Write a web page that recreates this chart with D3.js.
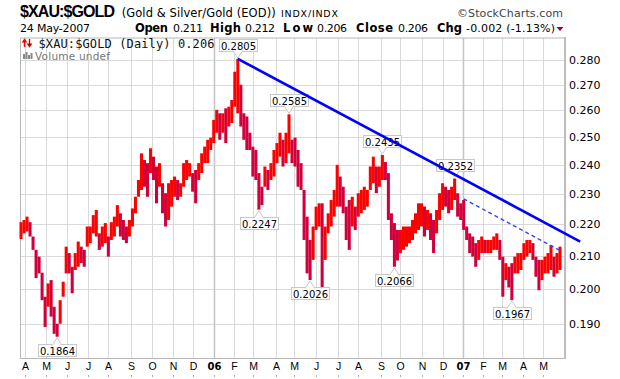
<!DOCTYPE html>
<html><head><meta charset="utf-8">
<script src="https://cdn.jsdelivr.net/npm/d3@7/dist/d3.min.js"></script>
<style>
html,body{margin:0;padding:0;background:#fff;}
svg{display:block;}
</style></head><body>
<svg id="c" width="620" height="379"></svg>
<script>
// ---------- data ----------
const firstDay = "2005-03-28", lastDay = "2007-05-24";
const holidays = ["2005-05-30","2005-07-04","2005-09-05","2005-11-24","2005-12-26",
  "2006-01-02","2006-01-16","2006-02-20","2006-04-14","2006-05-29","2006-07-04","2006-09-04","2006-11-23","2006-12-25",
  "2007-01-01","2007-01-02","2007-01-15","2007-02-19","2007-04-06"];
const yTicks = [0.19,0.20,0.21,0.22,0.23,0.24,0.25,0.26,0.27,0.28];
const monthLetters = ["J","F","M","A","M","J","J","A","S","O","N","D"];
// High / low of each price column (about every third session)
const highs = [0.2206,0.2213,0.2224,0.2206,0.2160,0.2118,0.2097,0.2048,0.1977,0.2016,
0.2026,0.1948,0.1900,0.1967,0.2021,0.2128,0.2108,0.2066,0.2108,0.2144,
0.2128,0.2118,0.2192,0.2192,0.2229,0.2246,0.2170,0.2192,0.2203,0.2160,
0.2206,0.2224,0.2262,0.2235,0.2213,0.2192,0.2213,0.2251,0.2290,0.2347,
0.2441,0.2417,0.2406,0.2459,0.2429,0.2394,0.2406,0.2336,0.2302,0.2336,
0.2347,0.2359,0.2347,0.2336,0.2406,0.2417,0.2406,0.2371,0.2382,0.2406,
0.2441,0.2465,0.2490,0.2498,0.2564,0.2602,0.2589,0.2589,0.2608,0.2614,
0.2640,0.2752,0.2805,0.2700,0.2589,0.2577,0.2516,0.2465,0.2453,0.2371,
0.2324,0.2394,0.2382,0.2406,0.2453,0.2478,0.2516,0.2490,0.2516,0.2585,
0.2490,0.2498,0.2453,0.2406,0.2313,0.2224,0.2149,0.2192,0.2257,0.2268,
0.2268,0.2192,0.2235,0.2279,0.2313,0.2400,0.2359,0.2324,0.2257,0.2279,
0.2290,0.2257,0.2302,0.2313,0.2324,0.2313,0.2394,0.2429,0.2394,0.2394,
0.2435,0.2410,0.2371,0.2235,0.2203,0.2181,0.2181,0.2192,0.2192,0.2192,
0.2213,0.2235,0.2268,0.2268,0.2257,0.2246,0.2235,0.2213,0.2246,0.2302,
0.2336,0.2324,0.2313,0.2324,0.2352,0.2302,0.2268,0.2279,0.2192,0.2170,
0.2160,0.2139,0.2149,0.2160,0.2149,0.2149,0.2149,0.2160,0.2170,0.2149,
0.2097,0.2077,0.2066,0.2077,0.2097,0.2108,0.2108,0.2139,0.2149,0.2149,
0.2139,0.2097,0.2087,0.2087,0.2097,0.2108,0.2133,0.2097,0.2108,0.2128];
const lows = [0.2152,0.2170,0.2176,0.2160,0.2118,0.2032,0.2046,0.1967,0.1891,0.1948,
0.1920,0.1872,0.1864,0.1900,0.1977,0.2046,0.2046,0.1987,0.2056,0.2066,
0.2077,0.2066,0.2128,0.2139,0.2170,0.2160,0.2118,0.2128,0.2139,0.2097,
0.2149,0.2160,0.2192,0.2160,0.2149,0.2139,0.2160,0.2192,0.2235,0.2290,
0.2313,0.2324,0.2290,0.2371,0.2347,0.2268,0.2324,0.2235,0.2192,0.2213,
0.2257,0.2290,0.2279,0.2290,0.2324,0.2347,0.2359,0.2307,0.2268,0.2347,
0.2371,0.2406,0.2406,0.2453,0.2478,0.2516,0.2490,0.2516,0.2478,0.2539,
0.2552,0.2614,0.2589,0.2539,0.2490,0.2453,0.2453,0.2359,0.2347,0.2247,
0.2262,0.2324,0.2313,0.2347,0.2359,0.2406,0.2429,0.2394,0.2406,0.2441,
0.2406,0.2394,0.2324,0.2313,0.2149,0.2046,0.2026,0.2087,0.2181,0.2192,
0.2004,0.2087,0.2170,0.2192,0.2224,0.2257,0.2257,0.2235,0.2149,0.2118,
0.2192,0.2181,0.2224,0.2235,0.2246,0.2257,0.2313,0.2336,0.2302,0.2324,
0.2347,0.2347,0.2213,0.2149,0.2066,0.2085,0.2108,0.2118,0.2128,0.2139,
0.2149,0.2170,0.2181,0.2192,0.2160,0.2181,0.2149,0.2108,0.2170,0.2213,
0.2246,0.2257,0.2235,0.2246,0.2279,0.2224,0.2213,0.2181,0.2149,0.2108,
0.2097,0.2066,0.2087,0.2108,0.2108,0.2108,0.2108,0.2118,0.2118,0.2087,
0.1977,0.2026,0.2004,0.1967,0.2046,0.2046,0.2056,0.2087,0.2097,0.2108,
0.2087,0.2036,0.1996,0.2026,0.2046,0.2046,0.2056,0.2036,0.2046,0.2056];
const annotations = [
  {col:72, value:0.2805, side:"above"},
  {col:89, value:0.2585, side:"above"},
  {col:120, value:0.2435, side:"above"},
  {col:144, value:0.2352, side:"above"},
  {col:12, value:0.1864, side:"below"},
  {col:79, value:0.2247, side:"below"},
  {col:96, value:0.2026, side:"below"},
  {col:124, value:0.2066, side:"below"},
  {col:163, value:0.1967, side:"below"}];
const trendSolid = [{col:72, value:0.2805},{col:185.7, value:0.2144}];
const trendDashed = [{col:147, value:0.2283},{col:179, value:0.2116}];

// ---------- layout ----------
const L = 20.5, R = 565, T = 38, B = 358.5;
const svg = d3.select("#c");
const SANS = "'DejaVu Sans', Verdana, sans-serif";
const ARIAL = "'Liberation Sans', Arial, sans-serif";

const parse = d3.timeParse("%Y-%m-%d"), fmt = d3.timeFormat("%Y-%m-%d");
const hol = new Set(holidays);
const days = d3.timeDay.range(parse(firstDay), d3.timeDay.offset(parse(lastDay), 1))
  .filter(d => d.getDay() % 6 !== 0 && !hol.has(fmt(d)));
const xs = d3.scaleLinear().domain([0, days.length - 1]).range([21, 560]);
const colX = k => xs(k * (days.length - 1) / (highs.length - 1));
const ys = d3.scaleLog().domain([0.1804, 0.2892]).range([359, 38]);

// month ticks
const months = d3.timeMonth.range(d3.timeMonth.ceil(days[0]), days[days.length - 1]);
const monthTicks = months.map(m => {
  const i = days.findIndex(d => d >= m);
  return {x: Math.round(xs(i)) + 0.5, m: m.getMonth(),
          label: m.getMonth() === 0 ? String(m.getFullYear()).slice(2) : monthLetters[m.getMonth()]};
});

// grid
const grid = svg.append("g");
grid.selectAll("line.h").data(yTicks).join("line")
  .attr("x1", L).attr("x2", R).attr("y1", d => Math.round(ys(d)) + 0.5).attr("y2", d => Math.round(ys(d)) + 0.5)
  .attr("stroke", "#d9d9d9");
grid.selectAll("line.v").data(monthTicks).join("line")
  .attr("x1", d => d.x).attr("x2", d => d.x).attr("y1", T).attr("y2", B)
  .attr("stroke", d => d.m === 0 ? "#c4c4c4" : "#d9d9d9").attr("stroke-width", d => d.m === 0 ? 1.5 : 1);

// frame
svg.append("path").attr("d", `M${L},${T}H${R}M${L},${T}V${B}H${R}`).attr("fill", "none").attr("stroke", "#b8b8b8");
svg.append("line").attr("x1", R).attr("x2", R).attr("y1", T - 1).attr("y2", B + 0.5).attr("stroke", "#bdbdbd").attr("stroke-width", 2);

// y axis labels (right)
svg.selectAll("text.yt").data(yTicks).join("text")
  .attr("x", 569).attr("y", d => ys(d) + 4).text(d3.format(".3f"))
  .attr("font-family", SANS).attr("font-size", 11).attr("fill", "#000");

// x axis labels
svg.selectAll("text.xt").data(monthTicks).join("text")
  .attr("x", d => d.x).attr("y", 369.5).attr("text-anchor", "middle")
  .attr("font-family", d => d.m === 0 ? SANS : "'Liberation Sans Narrow', 'Arial Narrow', " + ARIAL)
  .attr("font-weight", d => d.m === 0 ? "bold" : "normal")
  .attr("font-size", d => d.m === 0 ? 10 : 10.5)
  .text(d => d.label);
svg.selectAll("rect.xtk").data(monthTicks).join("rect")
  .attr("x", d => d.x - 0.5).attr("y", 375).attr("width", 1).attr("height", 2).attr("fill", "#aaa");

// price bars
const bars = svg.append("g");
const cols = highs.map((h, k) => ({k, h, l: lows[k]}));
bars.selectAll("rect").data(cols).join("rect")
  .attr("x", d => colX(d.k) - 1.5).attr("width", 3.05)
  .attr("y", d => ys(d.h)).attr("height", d => Math.max(1, ys(d.l) - ys(d.h)))
  .attr("fill", (d, i) => {
    if (i === 0) return "#ff0000";
    const prev = (highs[i - 1] + lows[i - 1]) / 2, cur = (d.h + d.l) / 2;
    return cur >= prev ? "#ff0000" : "#d1003c";
  });

// annotations
const ann = svg.append("g");
annotations.forEach(a => {
  const cx = colX(a.col), vy = ys(a.value), w = 38, h = 12;
  let tipY, boxY;
  if (a.side === "above") { tipY = vy - 1; boxY = tipY - 7 - h; }
  else { tipY = vy + 1; boxY = tipY + 6; }
  ann.append("rect").attr("x", Math.round(cx - w / 2) + 0.5).attr("y", Math.round(boxY) + 0.5)
    .attr("width", w).attr("height", h).attr("fill", "#fff").attr("stroke", "#c8c8c8");
  const e2 = a.side === "above" ? Math.round(boxY) + h - 0.5 : Math.round(boxY) + 1.5;
  ann.append("path").attr("d", `M${cx - 5},${e2}L${cx},${tipY}L${cx + 5},${e2}`)
    .attr("fill", "#fff").attr("stroke", "#c8c8c8");
  ann.append("text").attr("x", Math.round(cx - w / 2) + 0.5 + w / 2).attr("y", Math.round(boxY) + 10.5)
    .attr("text-anchor", "middle").attr("font-family", SANS).attr("font-size", 10).attr("fill", "#000")
    .text(d3.format(".4f")(a.value));
});

// trend lines
const tl = d3.line().x(d => colX(d.col)).y(d => ys(d.value));
svg.append("path").attr("d", tl(trendSolid)).attr("stroke", "#0000ff").attr("stroke-width", 2.6).attr("fill", "none");
svg.append("path").attr("d", tl(trendDashed)).attr("stroke", "#3344ff").attr("stroke-width", 1.4)
  .attr("stroke-dasharray", "4,3").attr("fill", "none");

// legend inside plot
const lg = svg.append("g");
lg.append("path").attr("d", "M24.5,47V40M22.5,42.5L24.5,39.5L26.5,42.5").attr("stroke", "#ff0000").attr("stroke-width", 1.4).attr("fill", "none");
lg.append("path").attr("d", "M29.5,39V46M27.5,43.5L29.5,46.5L31.5,43.5").attr("stroke", "#cc0000").attr("stroke-width", 1.4).attr("fill", "none");
lg.append("text").attr("x", 38.5).attr("y", 47.5).attr("font-family", "'DejaVu Sans Mono', monospace")
  .attr("font-size", 12).attr("textLength", 176).attr("lengthAdjust", "spacing").attr("fill", "#111")
  .text("$XAU:$GOLD (Daily) 0.206");
[[23,54,5],[25.5,52,7],[28,55,4],[30.5,53,6]].forEach(b =>
  lg.append("rect").attr("x", b[0]).attr("y", b[1]).attr("width", 2).attr("height", b[2]).attr("fill", "#888"));
lg.append("text").attr("x", 35).attr("y", 59.5).attr("font-family", SANS).attr("font-size", 10.5)
  .attr("textLength", 75).attr("lengthAdjust", "spacing").attr("fill", "#777").text("Volume undef");

// header
function txt(x, y, s, o) {
  const t = svg.append("text").attr("x", x).attr("y", y).text(s)
    .attr("font-family", o.f || SANS).attr("font-size", o.s || 11)
    .attr("font-weight", o.b ? "bold" : "normal").attr("fill", o.c || "#000");
  if (o.w) t.attr("textLength", o.w).attr("lengthAdjust", "spacing");
  return t;
}
txt(20, 16.7, "$XAU:$GOLD", {f: ARIAL, s: 16, b: true, w: 95});
txt(121.7, 16.7, "(Gold & Silver/Gold (EOD))", {s: 11.5, w: 154});
txt(281, 16.7, "INDX/INDX", {s: 9.5, w: 57});
txt(457, 17, "\u00a9StockCharts.com", {s: 11, w: 106, c: "#444"});
txt(20, 32, "24 May-2007", {s: 11, w: 70});
txt(135, 32, "Open", {s: 11.5, b: true, w: 33});
txt(173, 32, "0.211", {s: 11, w: 30});
txt(210, 32, "High", {s: 11.5, b: true, w: 31});
txt(245, 32, "0.212", {s: 11, w: 30});
txt(283, 32, "Low", {s: 11.5, b: true, w: 30});
txt(317, 32, "0.206", {s: 11, w: 30});
txt(356, 32, "Close", {s: 11.5, b: true, w: 37});
txt(398, 32, "0.206", {s: 11, w: 30});
txt(437, 32, "Chg", {s: 11.5, b: true, w: 25});
txt(466, 32, "-0.002 (-1.13%)", {s: 11, w: 89});
svg.append("path").attr("d", "M556.5,27L563.5,27L560,31Z").attr("fill", "#990033");
</script>
</body></html>
